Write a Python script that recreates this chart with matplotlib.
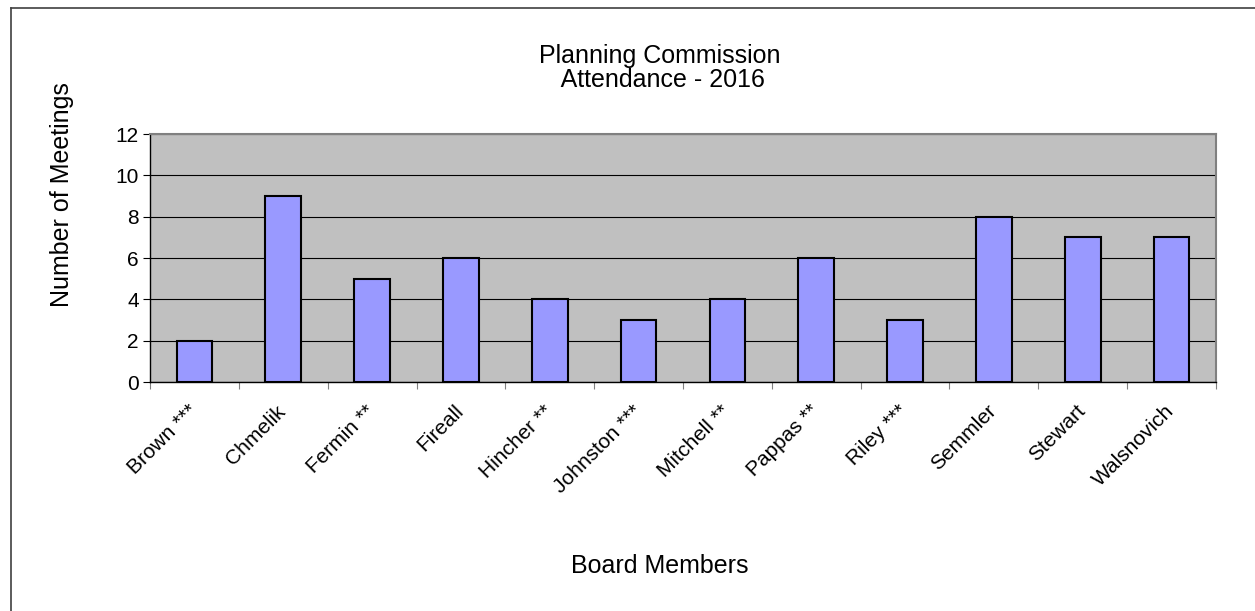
import numpy as np
import matplotlib.pyplot as plt
from matplotlib.lines import Line2D

members = ['Brown ***', 'Chmelik', 'Fermin **', 'Fireall', 'Hincher **',
           'Johnston ***', 'Mitchell **', 'Pappas **', 'Riley ***',
           'Semmler', 'Stewart', 'Walsnovich']
meetings = [2, 9, 5, 6, 4, 3, 4, 6, 3, 8, 7, 7]
yticks = [0, 2, 4, 6, 8, 10, 12]

plt.rcParams['font.family'] = ['Liberation Sans', 'DejaVu Sans']

fig = plt.figure(figsize=(12.55, 6.11), dpi=100)
ax = fig.add_axes([150/1255, 1-382/611, (1216-150)/1255, (382-134)/611])
ax.set_facecolor('#C0C0C0')

x = np.arange(len(members))
ax.bar(x, meetings, width=0.4, color='#9999FF', edgecolor='black',
       linewidth=1.5, zorder=3)

ax.set_xlim(-0.5, len(members) - 0.5)
ax.set_ylim(0, 12)
ax.set_yticks(yticks)
ax.set_yticklabels([str(v) for v in yticks], fontsize=15)
ax.yaxis.grid(True, color='black', linewidth=0.8, zorder=1)
ax.set_axisbelow(True)

# category boundary ticks
ax.set_xticks(np.arange(len(members) + 1) - 0.5, minor=False)
ax.set_xticklabels([])
ax.set_xticks(x - 0.08, minor=True)
ax.set_xticklabels(members, minor=True, rotation=45, ha='right',
                   rotation_mode='anchor', fontsize=15)
ax.tick_params(axis='x', which='minor', length=0, pad=14)
ax.tick_params(axis='x', which='major', length=5, color='#808080')
ax.tick_params(axis='y', length=5, pad=3)

for s in ['top', 'right']:
    ax.spines[s].set_color('#808080')
    ax.spines[s].set_linewidth(1.5)
ax.spines['left'].set_linewidth(1)
ax.spines['bottom'].set_linewidth(1)

fig.text(62/1255, 1-195/611, 'Number of Meetings', fontsize=18, rotation=90,
         ha='center', va='center')
fig.text(0.526, 1-566/611, 'Board Members', fontsize=18, ha='center', va='center')
fig.text(0.526, 1-68/611, 'Planning Commission\n Attendance - 2016', fontsize=18,
         ha='center', va='center', linespacing=0.98)

# outer frame
fig.add_artist(Line2D([11/1255, 11/1255], [0, 1-8/611], color='#404040', lw=1.2))
fig.add_artist(Line2D([11/1255, 1], [1-8/611, 1-8/611], color='#404040', lw=1.2))

fig.savefig('out.png', dpi=100)
